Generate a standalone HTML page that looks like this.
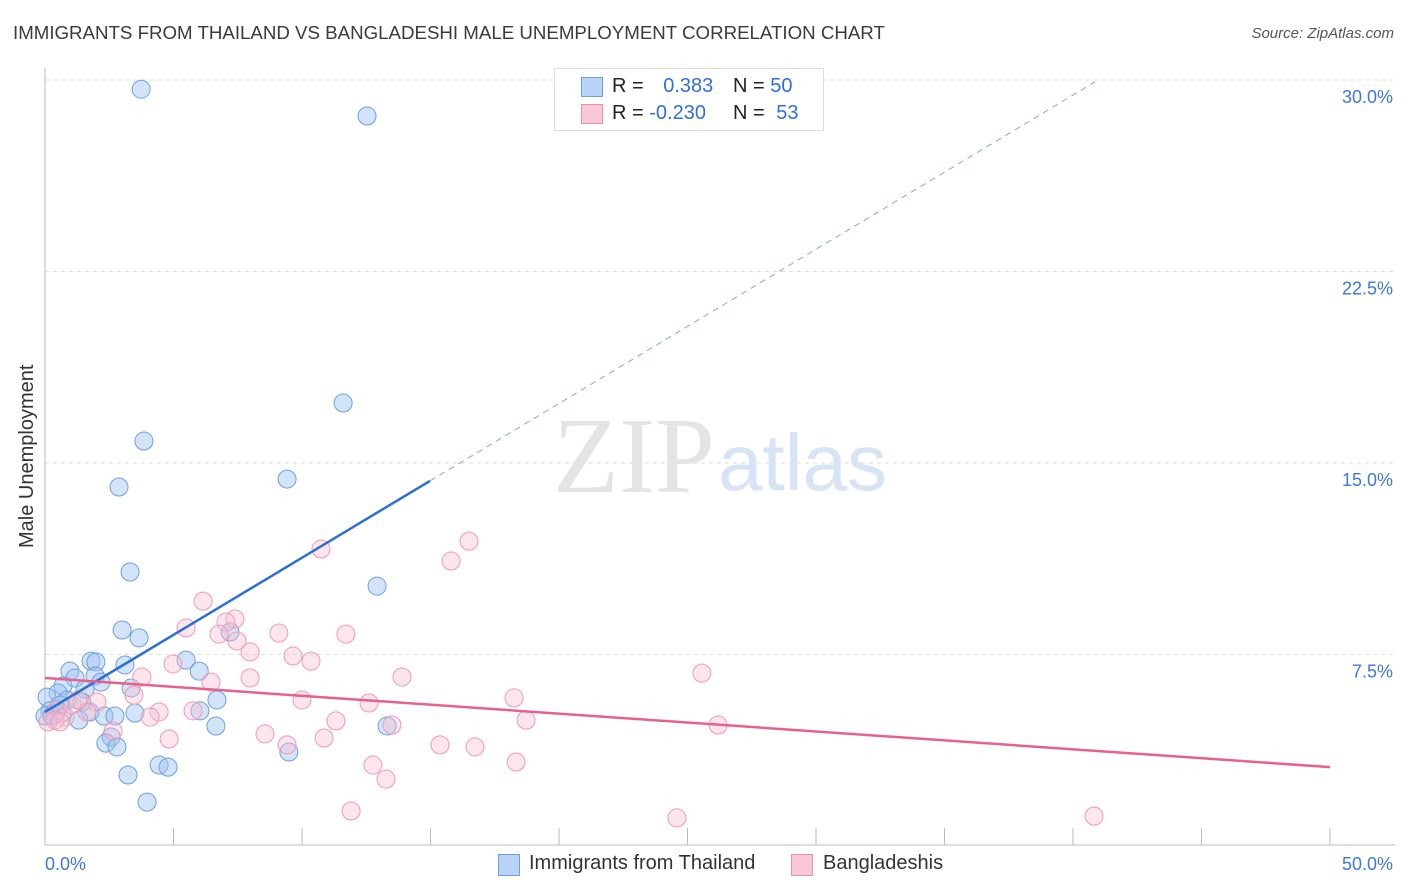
<!DOCTYPE html>
<html><head><meta charset="utf-8"><style>
body{margin:0;background:#fff;font-family:"Liberation Sans",sans-serif;}
#wrap{position:relative;width:1406px;height:892px;overflow:hidden;}
.t{position:absolute;white-space:nowrap;}
</style></head><body><div id="wrap">
<div class="t" style="left:13px;top:22px;font-size:18.7px;color:#3a3a3a">IMMIGRANTS FROM THAILAND VS BANGLADESHI MALE UNEMPLOYMENT CORRELATION CHART</div>
<div class="t" style="right:12px;top:25px;font-size:15px;color:#555;font-style:italic">Source: ZipAtlas.com</div>
<div class="t" style="font-size:20px;color:#333;transform:rotate(-90deg);transform-origin:0 0;left:16px;top:548px">Male Unemployment</div>
<svg id="svg" width="1406" height="892" style="position:absolute;left:0;top:0"></svg>
<div style="position:absolute;left:554px;top:68px;width:268px;height:61px;border:1px solid #ddd;background:#fff;font-size:20px">
<div style="position:absolute;left:26px;top:8px;width:20px;height:18px;background:#b8d3f5;border:1px solid #6b9fe0"></div>
<div class="t" style="left:57px;top:6px;color:#222">R = <span style="color:#2f6fd6;margin-left:14px">0.383</span></div>
<div class="t" style="left:178px;top:6px;color:#222">N = <span style="color:#2f6fd6">50</span></div>
<div style="position:absolute;left:26px;top:35px;width:20px;height:18px;background:#f9c8d8;border:1px solid #ea8fae"></div>
<div class="t" style="left:57px;top:33px;color:#222">R = <span style="color:#2f6fd6">-0.230</span></div>
<div class="t" style="left:178px;top:33px;color:#222">N = <span style="color:#2f6fd6;margin-left:6px">53</span></div>
</div>
<div style="position:absolute;left:498px;top:854px;width:20px;height:20px;background:#b8d3f5;border:1px solid #6b9fe0"></div>
<div class="t" style="left:529px;top:852px;font-size:20px;color:#333">Immigrants from Thailand</div>
<div style="position:absolute;left:791px;top:854px;width:20px;height:20px;background:#f9c8d8;border:1px solid #ea8fae"></div>
<div class="t" style="left:823px;top:852px;font-size:20px;color:#333">Bangladeshis</div>
</div>
<script>
const yTicks=[7.5,15,22.5,30];
const yTickLabels=["7.5%","15.0%","22.5%","30.0%"];
const xLabels=["0.0%","50.0%"];
const thX=[3.74,12.53,11.60,3.85,2.88,9.42,3.31,12.92,3.00,3.66,7.20,1.79,1.98,3.11,5.49,6.00,0.97,1.17,1.95,2.18,0.70,1.56,0.51,3.35,0.08,0.86,1.44,6.69,0.19,0.39,0.66,1.75,6.03,3.50,2.30,2.72,1.32,6.65,13.31,2.57,2.37,2.80,9.49,4.44,4.79,3.23,3.97,0,0.27,0.58];
const thY=[29.64,28.59,17.35,15.86,14.06,14.37,10.73,10.18,8.46,8.15,8.38,7.24,7.21,7.09,7.28,6.85,6.85,6.58,6.66,6.42,6.27,6.15,5.99,6.19,5.83,5.72,5.64,5.72,5.29,5.17,5.21,5.25,5.29,5.21,5.09,5.09,4.93,4.70,4.70,4.27,4.03,3.88,3.68,3.17,3.09,2.78,1.72,5.09,5.09,5.52];
const bdX=[16.50,10.74,15.80,6.15,7.39,7.04,5.49,6.77,9.10,11.71,7.47,7.98,9.65,10.35,4.98,25.56,3.77,7.98,13.89,6.46,3.46,18.25,10.00,12.61,2.02,0.47,1.63,4.44,5.76,4.09,0.78,11.32,18.72,13.50,26.19,0.39,2.65,8.56,4.83,10.86,9.42,15.37,16.73,18.33,12.76,13.27,11.91,24.59,40.82,1.05,1.28,0.12,0.58];
const bdY=[11.94,11.63,11.16,9.59,8.89,8.77,8.54,8.30,8.34,8.30,8.03,7.60,7.44,7.24,7.13,6.77,6.62,6.58,6.62,6.42,5.91,5.80,5.72,5.60,5.64,5.33,5.25,5.25,5.29,5.05,5.05,4.90,4.93,4.74,4.74,4.93,4.50,4.39,4.19,4.23,3.96,3.96,3.88,3.29,3.17,2.62,1.37,1.10,1.17,5.52,5.72,4.86,4.86];
const thTrend=[5.25,0.604,14.98,40.86];
const bdTrend=[6.58,3.09];
const X=v=>45+v/50*1285, Y=v=>846-v/7.5*191.5;
const svg=document.getElementById('svg');const NS='http://www.w3.org/2000/svg';
function mk(t,a,name){const e=document.createElementNS(NS,t);for(const k in a)e.setAttribute(k,a[k]);


svg.appendChild(e);return e;}
yTicks.forEach((v,i)=>{mk('line',{x1:45,x2:1395,y1:Y(v),y2:Y(v),stroke:'#ddd','stroke-dasharray':'4,4'},'gridline');
const t=mk('text',{x:1393,y:Y(v)+23,'text-anchor':'end','font-size':18,fill:'#3b78d8','font-family':'Liberation Sans'},'y-tick-label');t.textContent=yTickLabels[i];});
mk('line',{x1:45,x2:45,y1:68,y2:845,stroke:'#bbb'},'y-axis-line');
mk('line',{x1:45,x2:1395,y1:845,y2:845,stroke:'#bbb'},'x-axis-line');
for(let i=1;i<=10;i++)mk('line',{x1:X(i*5),x2:X(i*5),y1:828,y2:845,stroke:'#bbb'},'x-tick');
[[X(0),'start'],[X(50)+63,'end']].forEach((p,i)=>{const t=mk('text',{x:p[0],y:870,'text-anchor':p[1],'font-size':18,fill:'#3b78d8','font-family':'Liberation Sans'},'x-tick-label');t.textContent=xLabels[i];});
const w1=mk('text',{x:553,y:492,'font-size':108,fill:'#e4e4e4','font-family':'Liberation Serif'},'watermark-zip');w1.textContent='ZIP';
const w2=mk('text',{x:718,y:490,'font-size':80,fill:'#d6e4f6','font-family':'Liberation Sans'},'watermark-atlas');w2.textContent='atlas';
thX.forEach((x,i)=>mk('circle',{cx:X(x),cy:Y(thY[i]),r:9,fill:'rgba(160,196,240,0.45)',stroke:'#6b9fe0','stroke-width':1},'thailand-point'));
bdX.forEach((x,i)=>mk('circle',{cx:X(x),cy:Y(bdY[i]),r:9,fill:'rgba(248,190,210,0.4)',stroke:'#ec9ab6','stroke-width':1},'bangladeshi-point'));
const f=x=>thTrend[0]+thTrend[1]*x;
mk('line',{x1:X(0),y1:Y(f(0)),x2:X(thTrend[2]),y2:Y(f(thTrend[2])),stroke:'#2a6fd6','stroke-width':2.5},'thailand-trendline');
mk('line',{x1:X(thTrend[2]),y1:Y(f(thTrend[2])),x2:X(thTrend[3]),y2:Y(f(thTrend[3])),stroke:'#7fa8e0','stroke-width':1,'stroke-dasharray':'6,5'},'thailand-trendline-extension');
mk('line',{x1:X(0),y1:Y(bdTrend[0]),x2:X(50),y2:Y(bdTrend[1]),stroke:'#e8608e','stroke-width':2.5},'bangladeshi-trendline');
</script></body></html>
